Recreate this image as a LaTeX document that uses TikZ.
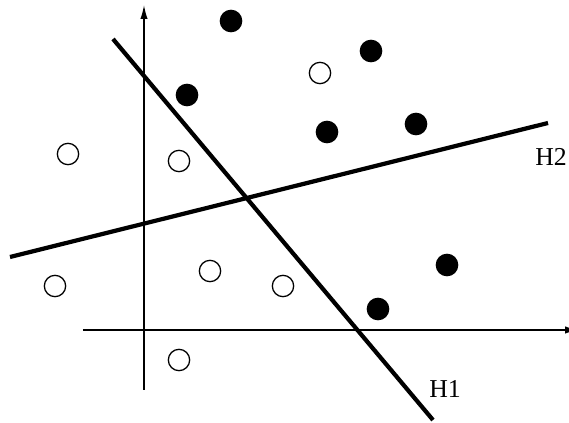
\documentclass[tikz,border=0pt]{standalone}
\usepackage{fontspec}
\setmainfont{Liberation Serif}
\usetikzlibrary{arrows.meta}

\begin{document}
\begin{tikzpicture}[x=0.3cm, y=0.3cm, >={Latex[length=0.42cm, width=0.22cm]},
		axis/.style={line width=1.2pt},
		hyper/.style={line width=3.6pt},
		possample/.style={circle, fill=black, inner sep=0pt, minimum size=0.68cm},
		negsample/.style={circle, draw=black, line width=1.1pt, fill=white, inner sep=0pt, minimum size=0.64cm},
		lbl/.style={font=\fontsize{22}{26}\selectfont, inner sep=0pt}]
	\useasboundingbox (-14.4,-9.3) rectangle (42.5,33.0);
	
	% ================= 坐标轴 =================
	\coordinate (xl) at (-6.1,0);
	\coordinate (xr) at (43.5,0);
	\coordinate (yb) at (0,-6.0);
	\coordinate (yt) at (0,32.5);
	\draw[axis, ->] (xl) -- (xr);
	\draw[axis, ->] (yb) -- (yt);
	
	% ================= 分类超平面 =================
	\coordinate (h1a) at (-3.1,29.1);
	\coordinate (h1b) at (28.9,-9.0);
	\coordinate (h2a) at (-13.4,7.3);
	\coordinate (h2b) at (40.4,20.7);
	\draw[hyper] (h1a) -- (h1b);
	\draw[hyper] (h2a) -- (h2b);
	\node[lbl] (H1) at (30.1,-5.9) {H1};
	\node[lbl] (H2) at (40.7,17.3) {H2};
	
	% ================= 正类样本 =================
	\node[possample] (b1) at (8.7,30.9) {};
	\node[possample] (b2) at (22.7,27.9) {};
	\node[possample] (b3) at (4.3,23.5) {};
	\node[possample] (b4) at (18.3,19.8) {};
	\node[possample] (b5) at (27.2,20.6) {};
	\node[possample] (b6) at (30.3,6.5) {};
	\node[possample] (b7) at (23.4,2.1) {};
	
	% ================= 负类样本 =================
	\node[negsample] (w1) at (17.6,25.7) {};
	\node[negsample] (w2) at (-7.6,17.6) {};
	\node[negsample] (w3) at (3.5,16.9) {};
	\node[negsample] (w4) at (-8.9,4.4) {};
	\node[negsample] (w5) at (6.6,5.9) {};
	\node[negsample] (w6) at (13.9,4.4) {};
	\node[negsample] (w7) at (3.5,-3.0) {};
	
\end{tikzpicture}
\end{document}
